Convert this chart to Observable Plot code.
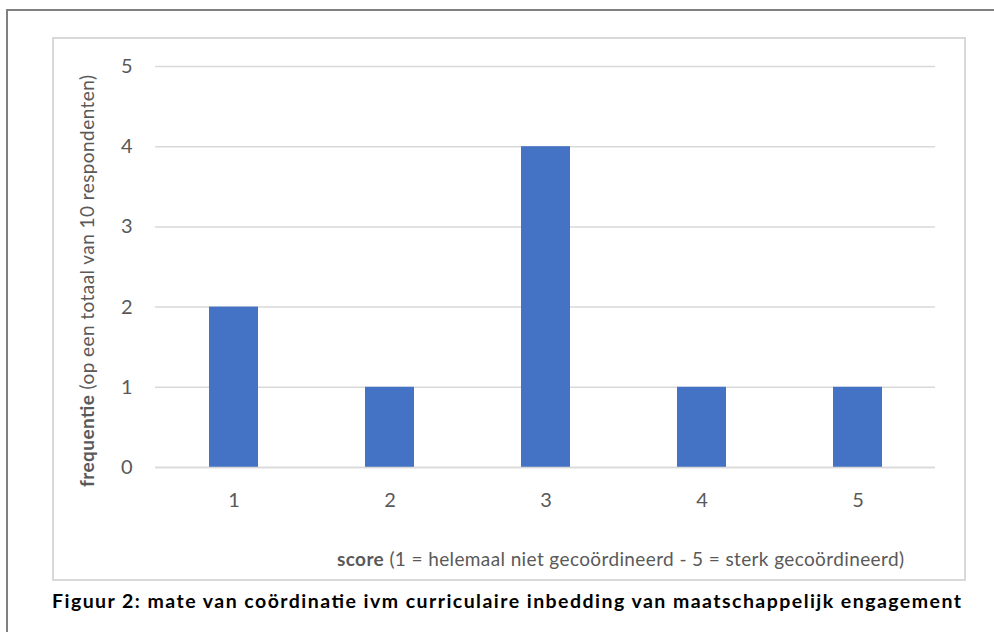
<!DOCTYPE html>
<html>
<head>
<meta charset="utf-8">
<script src="https://cdn.jsdelivr.net/npm/d3@7"></script>
<script src="https://cdn.jsdelivr.net/npm/@observablehq/plot@0.6"></script>
<style>
  body { margin: 0; background: #fff; overflow: hidden; }
  #wrap { position: relative; width: 994px; height: 632px; overflow: hidden; background: #fff; }
  #outer { position: absolute; left: 6px; top: 9px; width: 1100px; height: 700px; border: 2px solid #808080; box-sizing: border-box; }
  #inner { position: absolute; left: 52px; top: 37px; width: 914px; height: 544px; border: 2px solid #d9d9d9; box-sizing: border-box; }
  #chart { position: absolute; left: 0; top: 0; }
</style>
</head>
<body>
<div id="wrap">
  <div id="outer"></div>
  <div id="inner"></div>
  <div id="chart"></div>
</div>
<script>
const scores = ["1", "2", "3", "4", "5"];
const frequencies = [2, 1, 4, 1, 1];
const yTicks = [0, 1, 2, 3, 4, 5];
const yTitleBold = "frequentie";
const yTitleRest = " (op een totaal van 10 respondenten)";
const xTitleBold = "score";
const xTitleRest = " (1 = helemaal niet gecoördineerd - 5 = sterk gecoördineerd)";
const caption = "Figuur 2: mate van coördinatie ivm curriculaire inbedding van maatschappelijk engagement";

const data = scores.map((s, i) => ({score: s, freq: frequencies[i]}));
const FONT = "Lato, 'Open Sans', sans-serif";

const plot = Plot.plot({
  width: 994,
  height: 632,
  marginLeft: 155,
  marginRight: 59,
  marginTop: 66,
  marginBottom: 165,
  style: {background: "transparent", fontFamily: FONT, fontSize: "20px", color: "#595959", overflow: "visible"},
  x: {domain: scores, paddingInner: 0.686, paddingOuter: 0.343, label: null},
  y: {domain: [0, 5], label: null},
  marks: [
    Plot.gridY(yTicks, {stroke: "#d9d9d9", strokeOpacity: 1, strokeWidth: 1.5}),
    Plot.barY(data, {x: "score", y: "freq", fill: "#4472c4"}),
    Plot.ruleY([0], {stroke: "#d9d9d9", strokeWidth: 1.5}),
    Plot.axisY(yTicks, {tickSize: 0, tickPadding: 23, label: null, fill: "#595959", fontSize: 20, tickFormat: d => String(d)}),
    Plot.axisX({tickSize: 0, tickPadding: 25, label: null, fill: "#595959", fontSize: 20})
  ]
});
document.getElementById("chart").append(plot);

const svg = d3.select(plot);
// x-axis title
const xt = svg.append("text")
  .attr("x", 337).attr("y", 566)
  .attr("text-anchor", "start")
  .attr("fill", "#595959").attr("font-family", FONT).attr("font-size", 19)
  .attr("textLength", 567).attr("lengthAdjust", "spacing");
xt.append("tspan").attr("font-weight", "bold").text(xTitleBold);
xt.append("tspan").text(xTitleRest);

// y-axis title (rotated)
const yt = svg.append("text")
  .attr("transform", "translate(94,487) rotate(-90)")
  .attr("x", 0).attr("y", 0)
  .attr("text-anchor", "start")
  .attr("fill", "#595959").attr("font-family", FONT).attr("font-size", 19)
  .attr("textLength", 412).attr("lengthAdjust", "spacing");
yt.append("tspan").attr("font-weight", "bold").text(yTitleBold);
yt.append("tspan").text(yTitleRest);

// caption
svg.append("text")
  .attr("x", 52).attr("y", 608)
  .attr("text-anchor", "start")
  .attr("fill", "#000").attr("font-family", FONT).attr("font-size", 19.5).attr("font-weight", "bold")
  .attr("textLength", 909).attr("lengthAdjust", "spacing")
  .text(caption);
</script>
</body>
</html>
